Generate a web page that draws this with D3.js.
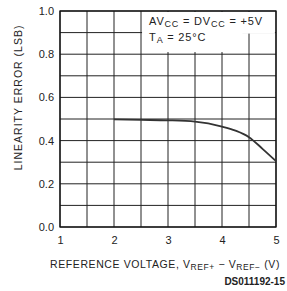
<!DOCTYPE html>
<html>
<head>
<meta charset="utf-8">
<script src="https://cdn.jsdelivr.net/npm/d3@7"></script>
<style>
  body { margin: 0; background: #fff; }
  text { font-family: "Liberation Sans", Arial, sans-serif; fill: #222; }
</style>
</head>
<body>
<div id="chart"></div>
<script>
// data
const voltage = [2, 2.5, 3, 3.5, 4, 4.25, 4.5, 4.75, 5];
const linErr  = [0.498, 0.496, 0.494, 0.488, 0.465, 0.446, 0.416, 0.362, 0.305];
const xTicks = [1, 2, 3, 4, 5];
const yTicks = [0.0, 0.2, 0.4, 0.6, 0.8, 1.0];

const width = 287, height = 291;
const margin = { top: 11, right: 11, bottom: 64, left: 60 };
const w = width - margin.left - margin.right;
const h = height - margin.top - margin.bottom;

const svg = d3.select("#chart").append("svg")
  .attr("width", width)
  .attr("height", height);
const plot = svg.append("g")
  .attr("transform", `translate(${margin.left}, ${margin.top})`);

const x = d3.scaleLinear().domain([1, 5]).range([0, w]);
const y = d3.scaleLinear().domain([0, 1]).range([h, 0]);

// grid
plot.append("g")
  .selectAll("line")
  .data(d3.range(1, 5.01, 0.5))
  .join("line")
  .attr("x1", d => x(d)).attr("x2", d => x(d))
  .attr("y1", 0).attr("y2", h)
  .attr("stroke", "#222").attr("stroke-width", 1);
plot.append("g")
  .selectAll("line")
  .data(d3.range(0, 1.01, 0.1))
  .join("line")
  .attr("x1", 0).attr("x2", w)
  .attr("y1", d => y(d)).attr("y2", d => y(d))
  .attr("stroke", "#222").attr("stroke-width", 1);

// annotation backdrop
plot.append("rect")
  .attr("x", x(2.52)).attr("y", 1)
  .attr("width", x(4.98) - x(2.52)).attr("height", y(0.9));
plot.append("rect")
  .attr("x", x(2.52)).attr("y", y(0.9))
  .attr("width", x(4.38) - x(2.52)).attr("height", y(0.81) - y(0.9));
plot.selectAll("rect").attr("fill", "#fff");

// frame
plot.append("rect")
  .attr("width", w).attr("height", h)
  .attr("fill", "none").attr("stroke", "#111").attr("stroke-width", 1.3);

// axes labels
const xAxis = d3.axisBottom(x).tickValues(xTicks).tickSize(0).tickPadding(9).tickFormat(d3.format("d"));
const yAxis = d3.axisLeft(y).tickValues(yTicks).tickSize(0).tickPadding(6).tickFormat(d3.format(".1f"));
const gx = plot.append("g").attr("transform", `translate(0,${h})`).call(xAxis);
const gy = plot.append("g").call(yAxis);
[gx, gy].forEach(g => {
  g.select(".domain").remove();
  g.selectAll("text")
    .style("font-size", "11px")
    .style("font-family", "Liberation Sans, Arial, sans-serif")
    .attr("fill", "#333");
});

// curve
const line = d3.line()
  .x((d, i) => x(voltage[i]))
  .y(d => y(d))
  .curve(d3.curveMonotoneX);
plot.append("path")
  .datum(linErr)
  .attr("d", line)
  .attr("fill", "none")
  .attr("stroke", "#333")
  .attr("stroke-width", 1.8);

// annotation
const ann = plot.append("text")
  .attr("x", x(2.65)).attr("y", y(0.935))
  .style("font-size", "11px").style("letter-spacing", "0.8px");
ann.append("tspan").text("AV");
ann.append("tspan").attr("baseline-shift", "-25%").style("font-size", "9px").text("CC");
ann.append("tspan").text(" = DV");
ann.append("tspan").attr("baseline-shift", "-25%").style("font-size", "9px").text("CC");
ann.append("tspan").text(" = +5V");
const ann2 = plot.append("text")
  .attr("x", x(2.65)).attr("y", y(0.86))
  .style("font-size", "11px").style("letter-spacing", "0.8px");
ann2.append("tspan").text("T");
ann2.append("tspan").attr("baseline-shift", "-25%").style("font-size", "9px").text("A");
ann2.append("tspan").text(" = 25°C");

// y title
svg.append("text")
  .attr("transform", `translate(22, ${margin.top + y(0.6)}) rotate(-90)`)
  .attr("text-anchor", "middle")
  .style("font-size", "10.5px").style("letter-spacing", "1px")
  .attr("fill", "#222")
  .text("LINEARITY ERROR (LSB)");

// x title
const xt = svg.append("text")
  .attr("x", 50).attr("y", 268)
  .style("font-size", "10.5px").style("letter-spacing", "0.6px");
xt.append("tspan").text("REFERENCE VOLTAGE, V");
xt.append("tspan").attr("baseline-shift", "-25%").style("font-size", "8.5px").text("REF+");
xt.append("tspan").text(" − V");
xt.append("tspan").attr("baseline-shift", "-25%").style("font-size", "8.5px").text("REF−");
xt.append("tspan").text("   (V)");

svg.append("text")
  .attr("x", 285).attr("y", 285)
  .attr("text-anchor", "end")
  .style("font-size", "10px").style("font-weight", "bold")
  .text("DS011192-15");
</script>
</body>
</html>
